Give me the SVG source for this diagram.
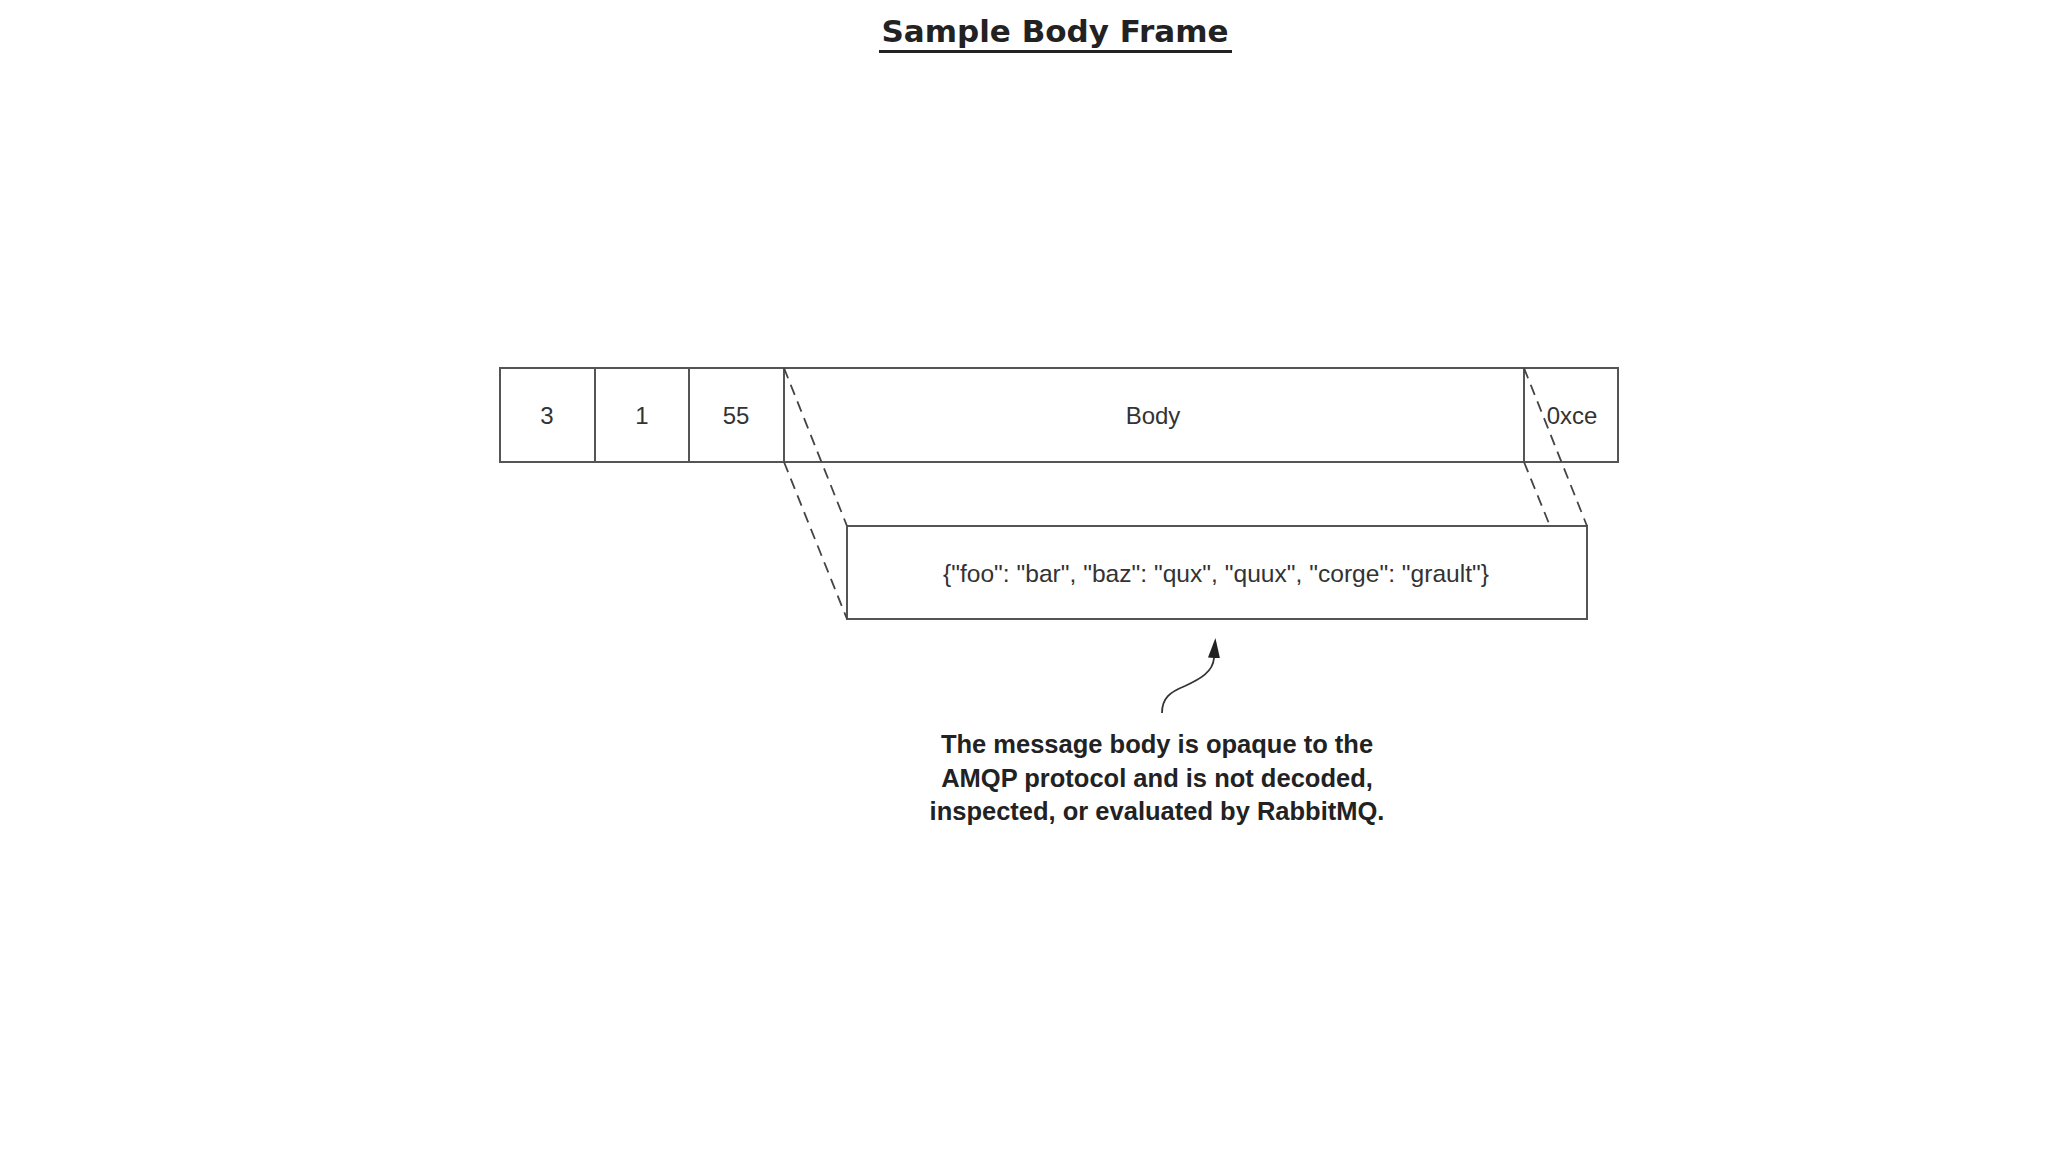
<svg xmlns="http://www.w3.org/2000/svg" width="2048" height="1152" viewBox="0 0 2048 1152">
  <style>
    .box { fill: #ffffff; stroke: #555555; stroke-width: 2; }
    .lbl { font-family: "Liberation Sans", Arial, sans-serif; font-size: 24px; fill: #333333; text-anchor: middle; }
    .json { font-size: 24.6px; }
    .dash { fill: none; stroke: #444444; stroke-width: 1.8; stroke-dasharray: 11 7; }
    .note { font-family: "Liberation Sans", Arial, sans-serif; font-weight: bold; font-size: 25.5px; fill: #222222; text-anchor: middle; }
    .title { font-family: "DejaVu Sans", Verdana, sans-serif; font-weight: bold; font-size: 31px; fill: #222222; text-anchor: middle; }
  </style>
  <defs>
    <marker id="arrow" viewBox="0 0 20 12" refX="0" refY="6" markerWidth="20" markerHeight="12" markerUnits="userSpaceOnUse" orient="auto">
      <path d="M0,0 L20,6 L0,12 Z" fill="#222222"/>
    </marker>
  </defs>
  <rect x="0" y="0" width="2048" height="1152" fill="#ffffff"/>

  <g id="title">
    <text class="title" x="1055" y="42">Sample Body Frame</text>
    <line x1="879" y1="51.5" x2="1232" y2="51.5" stroke="#222222" stroke-width="3"/>
  </g>

  <g id="frame-type">
    <rect class="box" x="500" y="368" width="95" height="94"/>
    <text class="lbl" x="547" y="424">3</text>
  </g>
  <g id="channel">
    <rect class="box" x="595" y="368" width="94" height="94"/>
    <text class="lbl" x="642" y="424">1</text>
  </g>
  <g id="size">
    <rect class="box" x="689" y="368" width="95" height="94"/>
    <text class="lbl" x="736" y="424">55</text>
  </g>
  <g id="body">
    <rect class="box" x="784" y="368" width="740" height="94"/>
    <text class="lbl" x="1153" y="424">Body</text>
  </g>
  <g id="end">
    <rect class="box" x="1524" y="368" width="94" height="94"/>
    <text class="lbl" x="1572" y="424">0xce</text>
  </g>
  <g id="payload">
    <rect class="box" x="847" y="526" width="740" height="93"/>
    <text class="lbl json" x="1216" y="582">{"foo": "bar", "baz": "qux", "quux", "corge": "grault"}</text>
  </g>

  <g id="connectors">
    <line class="dash" x1="784" y1="368" x2="847" y2="526"/>
    <line class="dash" x1="784" y1="462" x2="847" y2="619"/>
    <line class="dash" x1="1524" y1="368" x2="1587" y2="526"/>
    <line class="dash" x1="1524" y1="462" x2="1550" y2="526"/>
    <path d="M1162,713 C1162,698 1170,692 1185,686 C1200,679 1213,672 1214,658" fill="none" stroke="#333333" stroke-width="1.8" marker-end="url(#arrow)"/>
  </g>

  <g id="annotation">
    <text class="note" x="1157" y="753">The message body is opaque to the</text>
    <text class="note" x="1157" y="787">AMQP protocol and is not decoded,</text>
    <text class="note" x="1157" y="820">inspected, or evaluated by RabbitMQ.</text>
  </g>
</svg>
